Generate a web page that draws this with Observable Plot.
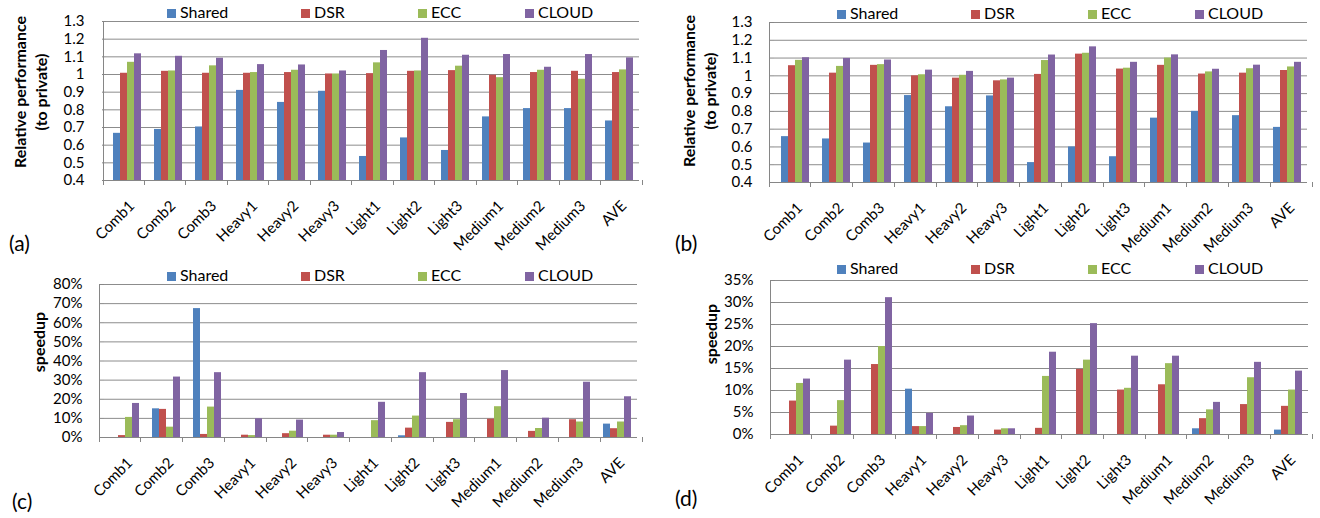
<!DOCTYPE html>
<html><head><meta charset="utf-8">
<script src="https://cdn.jsdelivr.net/npm/d3@7"></script>
<script src="https://cdn.jsdelivr.net/npm/@observablehq/plot@0.6"></script>
<style>
body{margin:0;background:#fff;font-family:Lato,"Noto Sans",sans-serif;}
#root{position:relative;width:1320px;height:518px;overflow:hidden;background:#fff;}
.panel{position:absolute;width:660px;}
.panel svg{display:block;}
.legend-item{position:absolute;font-size:16px;line-height:16px;white-space:nowrap;color:#000;}
.legend-item .sw{display:inline-block;width:9px;height:9px;margin-right:4px;vertical-align:0px;}
.ytitle{position:absolute;transform:translate(-50%,-50%) rotate(-90deg);font-weight:bold;font-size:16px;line-height:21px;text-align:center;white-space:nowrap;color:#000;}
.letter{position:absolute;font-size:21px;line-height:21px;color:#000;transform:translateY(-50%);}
</style></head>
<body><div id="root"></div>
<script>
const categories = ["Comb1","Comb2","Comb3","Heavy1","Heavy2","Heavy3","Light1","Light2","Light3","Medium1","Medium2","Medium3","AVE"];
const seriesNames = ["Shared","DSR","ECC","CLOUD"];
const seriesColors = ["#4F81BD","#C0504D","#9BBB59","#8064A2"];

// (a) relative performance
const aShared = [0.667,0.689,0.703,0.910,0.842,0.905,0.536,0.641,0.570,0.760,0.807,0.807,0.737];
const aDSR    = [1.007,1.018,1.007,1.007,1.011,1.003,1.005,1.018,1.022,0.996,1.011,1.018,1.011];
const aECC    = [1.069,1.020,1.049,1.011,1.024,1.003,1.066,1.020,1.047,0.982,1.024,0.973,1.026];
const aCLOUD  = [1.117,1.103,1.092,1.056,1.054,1.020,1.136,1.205,1.109,1.113,1.041,1.113,1.094];
// (b) relative performance
const bShared = [0.658,0.645,0.622,0.889,0.826,0.887,0.512,0.600,0.545,0.762,0.800,0.776,0.710];
const bDSR    = [1.057,1.015,1.059,1.000,0.987,0.972,1.008,1.122,1.038,1.059,1.010,1.015,1.030];
const bECC    = [1.087,1.053,1.063,1.006,1.003,0.977,1.086,1.127,1.043,1.100,1.022,1.040,1.050];
const bCLOUD  = [1.102,1.098,1.089,1.032,1.025,0.987,1.117,1.163,1.076,1.118,1.037,1.060,1.076];
// (c) speedup (%)
const cShared = [0,15.0,67.4,0,0,0,0,0.9,0,0,0,0,7.0];
const cDSR    = [1.0,14.7,1.6,1.2,2.0,1.2,0,4.9,7.9,9.6,3.2,9.3,4.6];
const cECC    = [10.5,5.4,15.9,1.0,3.3,1.2,8.8,11.2,9.3,16.1,4.7,8.1,8.1];
const cCLOUD  = [17.8,31.6,33.9,9.8,9.1,2.6,18.4,33.9,23.0,35.0,10.1,28.9,21.3];
// (d) speedup (%)
const dShared = [0,0,0,10.3,0,0,0,0,0,0,1.3,0,1.0];
const dDSR    = [7.6,1.9,15.9,1.8,1.6,1.0,1.4,14.8,10.1,11.3,3.6,6.8,6.4];
const dECC    = [11.6,7.7,20.0,1.8,2.0,1.3,13.2,16.9,10.5,16.1,5.6,12.9,10.1];
const dCLOUD  = [12.6,16.9,31.1,4.8,4.2,1.3,18.7,25.2,17.8,17.8,7.3,16.4,14.4];

const perfTicks = [0.4,0.5,0.6,0.7,0.8,0.9,1.0,1.1,1.2,1.3];
const cTicks = [0,10,20,30,40,50,60,70,80];
const dTicks = [0,5,10,15,20,25,30,35];
const perfTitle = ["Relative performance","(to private)"];
const speedTitle = ["speedup"];
const panelLetters = ["(a)","(b)","(c)","(d)"];

const perfFmt = d => String(+d.toFixed(1));
const pctFmt = d => d + "%";

const panels = [
  {left:0, top:0, h:260, ml:103, mr:18, mt:21, mb:80, ticks:perfTicks, fmt:perfFmt, vals:[aShared,aDSR,aECC,aCLOUD],
   title:perfTitle, tx:29.5, ty:92, legX:167, legY:11.5, letter:panelLetters[0], lx:9, ly:242},
  {left:660, top:0, h:260, ml:109, mr:8, mt:22, mb:78, ticks:perfTicks, fmt:perfFmt, vals:[bShared,bDSR,bECC,bCLOUD],
   title:perfTitle, tx:698.5, ty:91, legX:837, legY:13.3, letter:panelLetters[1], lx:675, ly:242},
  {left:0, top:260, h:258, ml:99, mr:18, mt:24, mb:81, ticks:cTicks, fmt:pctFmt, vals:[cShared,cDSR,cECC,cCLOUD],
   title:speedTitle, tx:37.5, ty:342, legX:167, legY:274.5, letter:panelLetters[2], lx:12, ly:500},
  {left:660, top:260, h:258, ml:110, mr:8, mt:20, mb:84, ticks:dTicks, fmt:pctFmt, vals:[dShared,dDSR,dECC,dCLOUD],
   title:speedTitle, tx:710, ty:333.5, legX:837, legY:268, letter:panelLetters[3], lx:675, ly:497}
];
const legendOffsets = [0,134,251,358];

const root = document.getElementById("root");

panels.forEach(p => {
  const rows = categories.flatMap((c,i) => seriesNames.map((s,j) => ({cat:c, series:s, value:p.vals[j][i]})));
  const yMin = p.ticks[0], yMax = p.ticks[p.ticks.length-1];
  const chart = Plot.plot({
    width:660, height:p.h,
    marginLeft:p.ml, marginRight:p.mr, marginTop:p.mt, marginBottom:p.mb,
    fx:{domain:categories, padding:0, label:null},
    x:{domain:seriesNames, paddingInner:0, paddingOuter:0.77, axis:null},
    y:{domain:[yMin,yMax], label:null},
    color:{domain:seriesNames, range:seriesColors},
    style:{fontFamily:'Lato, "Noto Sans", sans-serif', fontSize:"15px", color:"#000", background:"transparent", overflow:"visible"},
    marks:[
      Plot.gridY(p.ticks, {stroke:"#8c8c8c", strokeOpacity:1}),
      Plot.barY(rows, {fx:"cat", x:"series", y1:yMin, y2:"value", fill:"series"}),
      Plot.ruleY([yMin], {stroke:"#868686"}),
      Plot.axisY(p.ticks, {tickFormat:p.fmt, tickSize:4, tickPadding:18, stroke:"#868686", fill:"#000", label:null, fontSize:15}),
      Plot.axisFx({anchor:"bottom", tickRotate:-45, tickSize:0, tickPadding:23, dx:5, label:null, fontSize:15, fill:"#000"})
    ]
  });
  // chrome: vertical axis line and category boundary ticks (Excel style)
  const svg = d3.select(chart.tagName.toLowerCase() === "svg" ? chart : chart.querySelector("svg"));
  const x0 = p.ml, x1 = 660 - p.mr, yb = p.h - p.mb;
  const step = (x1 - x0) / categories.length;
  const g = svg.append("g").attr("stroke","#868686").attr("shape-rendering","crispEdges");
  g.append("line").attr("x1",x0).attr("x2",x0).attr("y1",p.mt).attr("y2",yb);
  d3.range(categories.length + 1).forEach(i => {
    g.append("line").attr("x1",x0+i*step).attr("x2",x0+i*step).attr("y1",yb).attr("y2",yb+5);
  });

  const div = document.createElement("div");
  div.className = "panel";
  div.style.left = p.left + "px";
  div.style.top = p.top + "px";
  div.appendChild(chart);
  root.appendChild(div);

  // legend
  seriesNames.forEach((s,j) => {
    const it = document.createElement("div");
    it.className = "legend-item";
    it.style.left = (p.legX + legendOffsets[j]) + "px";
    it.style.top = (p.legY - 8) + "px";
    it.innerHTML = `<span class="sw" style="background:${seriesColors[j]}"></span>${s}`;
    root.appendChild(it);
  });
  // y title
  const t = document.createElement("div");
  t.className = "ytitle";
  t.style.left = p.tx + "px";
  t.style.top = p.ty + "px";
  t.innerHTML = p.title.join("<br>");
  root.appendChild(t);
  // panel letter
  const l = document.createElement("div");
  l.className = "letter";
  l.style.left = p.lx + "px";
  l.style.top = p.ly + "px";
  l.textContent = p.letter;
  root.appendChild(l);
});
</script>
</body></html>
